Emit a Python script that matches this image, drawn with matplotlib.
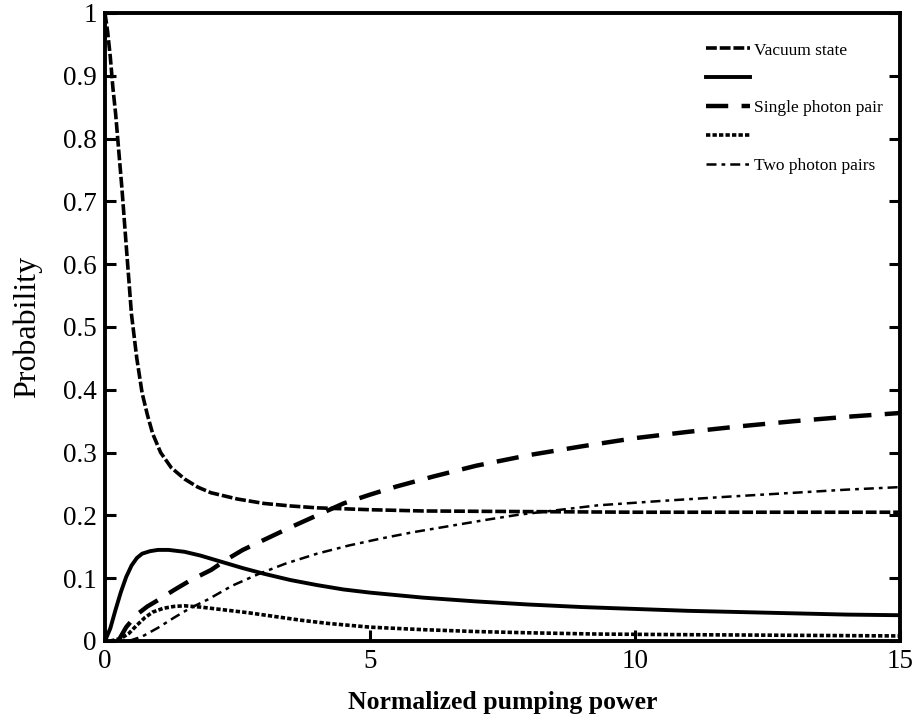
import matplotlib
matplotlib.use("Agg")
import matplotlib.pyplot as plt

plt.rcParams['font.family'] = ['Liberation Serif', 'DejaVu Serif']

# values
x_vac = [0, 0.05, 0.1, 0.15, 0.2, 0.25, 0.32, 0.4, 0.5, 0.6, 0.7, 0.8, 0.9, 1.05, 1.25, 1.5, 1.75,
         2.0, 2.5, 3.0, 3.5, 4.0, 5.0, 6.0, 8.0, 10.0, 15.0]
y_vac = [1.0, 0.97, 0.93, 0.88, 0.84, 0.79, 0.72, 0.63, 0.52, 0.45, 0.395, 0.36, 0.33, 0.3, 0.276, 0.258, 0.245,
         0.236, 0.226, 0.219, 0.215, 0.212, 0.209, 0.207, 0.206, 0.205, 0.205]

x_sol = [0, 0.1, 0.2, 0.3, 0.4, 0.5, 0.6, 0.7, 0.85, 1.0, 1.2, 1.5, 1.8, 2.2, 2.6, 3.0, 3.5, 4.0, 4.5,
         5.0, 6.0, 7.0, 8.0, 9.0, 10.0, 11.0, 12.0, 13.0, 14.0, 15.0]
y_sol = [0, 0.02, 0.05, 0.078, 0.102, 0.12, 0.132, 0.139, 0.143, 0.145, 0.145, 0.142, 0.136, 0.126, 0.116, 0.107,
         0.097, 0.089, 0.082, 0.077, 0.069, 0.063, 0.058, 0.054, 0.051, 0.048, 0.046, 0.044, 0.042, 0.041]

x_sgl = [0.25, 0.4, 0.6, 0.8, 1.0, 1.3, 1.62, 2.0, 2.3, 2.6, 3.0, 3.5, 4.0, 4.5, 5.0, 5.5, 6.2, 7.0, 8.0,
         9.0, 10.0, 11.0, 12.0, 13.0, 14.0, 15.0]
y_sgl = [0, 0.022, 0.042, 0.055, 0.065, 0.081, 0.097, 0.113, 0.13, 0.145, 0.161, 0.181, 0.2, 0.219, 0.233,
         0.246, 0.262, 0.279, 0.296, 0.31, 0.323, 0.333, 0.342, 0.35, 0.357, 0.363]

x_dot = [0.1, 0.3, 0.45, 0.6, 0.75, 0.9, 1.1, 1.3, 1.5, 1.8, 2.2, 2.7, 3.2, 3.7, 4.2, 5.0, 6.0, 7.0, 8.0,
         9.3, 11.0, 13.0, 15.0]
y_dot = [0, 0.004, 0.012, 0.025, 0.037, 0.046, 0.052, 0.055, 0.056, 0.054, 0.05, 0.045, 0.039, 0.033, 0.028,
         0.022, 0.018, 0.015, 0.013, 0.011, 0.01, 0.009, 0.008]

x_two = [0.45, 0.7, 1.0, 1.3, 1.6, 1.94, 2.4, 2.88, 3.4, 4.0, 4.6, 5.2, 5.8, 6.5, 7.2, 7.8, 8.5, 9.3,
         10.5, 11.8, 13.0, 14.0, 15.0]
y_two = [0, 0.007, 0.021, 0.037, 0.052, 0.066, 0.088, 0.106, 0.123, 0.139, 0.152, 0.163, 0.173, 0.183,
         0.193, 0.201, 0.208, 0.216, 0.223, 0.23, 0.236, 0.241, 0.245]

labels = ["Vacuum state", "", "Single photon pair", "", "Two photon pairs"]

fig = plt.figure(figsize=(9.17, 7.21), dpi=100)
ax = fig.add_axes([0.1145, 0.111, 0.867, 0.871])

l1, = ax.plot(x_vac, y_vac, color='black', lw=2.6, dashes=(3, 0.8))
l2, = ax.plot(x_sol, y_sol, color='black', lw=2.8)
l3, = ax.plot(x_sgl, y_sgl, color='black', lw=3.2, dashes=(5, 3))
l4, = ax.plot(x_dot, y_dot, color='black', lw=2.6, dashes=(1.2, 0.6))
l5, = ax.plot(x_two, y_two, color='black', lw=1.8, dashes=(4, 2, 1.5, 2))

ax.set_xlim(0, 15)
ax.set_ylim(0, 1)
ax.set_xticks([0, 5, 10, 15])
ax.set_yticks([0, 0.1, 0.2, 0.3, 0.4, 0.5, 0.6, 0.7, 0.8, 0.9, 1])
ax.set_yticklabels(["0", "0.1", "0.2", "0.3", "0.4", "0.5", "0.6", "0.7", "0.8", "0.9", "1"])
ax.tick_params(direction='in', length=8, width=2.2, labelsize=19.5, right=True, top=False, pad=6)
for s in ax.spines.values():
    s.set_linewidth(2.8)

ax.set_xlabel("Normalized pumping power", fontsize=18.5, fontweight='bold', labelpad=12)
ax.set_ylabel("Probability", fontsize=23, labelpad=15)

leg = ax.legend([l1, l2, l3, l4, l5], labels, loc='upper left', bbox_to_anchor=(0.7365, 0.978),
                frameon=False, fontsize=12.5, handlelength=2.5, handletextpad=0.23,
                labelspacing=0.73)

fig.savefig("out.png", dpi=100)
